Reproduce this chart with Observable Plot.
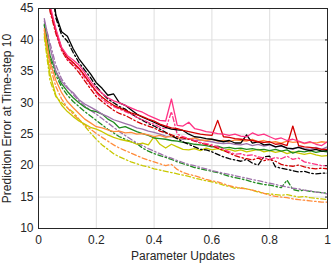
<!DOCTYPE html>
<html><head><meta charset="utf-8">
<script src="https://cdn.jsdelivr.net/npm/d3@7"></script>
<script src="https://cdn.jsdelivr.net/npm/@observablehq/plot@0.6"></script>
<style>body{margin:0;background:#fff}</style>
</head><body><div id="chart"></div>
<script>
const xs = [0.02,0.04,0.06,0.08,0.10,0.12,0.14,0.16,0.18,0.20,0.22,0.24,0.26,0.28,0.30,0.32,0.34,0.36,0.38,0.40,0.42,0.44,0.46,0.48,0.50,0.52,0.54,0.56,0.58,0.60,0.62,0.64,0.66,0.68,0.70,0.72,0.74,0.76,0.78,0.80,0.82,0.84,0.86,0.88,0.90,0.92,0.94,0.96,0.98,1.00];

const blackSolid = [60,52,44,41.3,40.6,38.6,37.0,35.8,34.6,33.2,32.3,31.2,31.4,30.0,29.6,28.9,28.2,27.7,27.3,26.9,26.5,26.1,25.8,25.7,25.6,25.0,24.6,24.5,24.3,24.2,24.0,23.8,24.0,23.6,23.6,24.9,23.6,23.8,23.3,23.4,23.0,23.2,22.8,22.7,22.9,22.6,22.4,22.6,22.3,22.4];
const blackDash = [58,51,43.5,40.8,39.8,38.0,36.4,35.2,34.0,32.6,31.5,30.6,30.0,29.4,29.0,28.3,27.7,27.2,26.7,26.3,25.8,25.3,24.8,24.3,23.8,23.4,23.0,22.6,22.5,22.2,21.8,21.4,21.1,20.9,20.7,21.0,20.4,20.1,21.4,21.5,19.8,19.6,19.4,19.2,19.0,19.1,18.8,18.7,18.8,18.8];
const pinkSolid = [55,45.5,41.8,38.8,37.5,36.8,36.0,34.8,33.4,32.3,31.5,30.8,30.3,30.0,29.6,29.2,28.8,28.5,28.0,27.6,27.2,27.1,30.6,26.4,26.3,26.9,25.9,25.7,25.4,25.3,25.1,25.0,24.8,25.0,24.7,24.6,25.2,24.8,25.0,24.6,24.2,24.4,24.0,24.2,23.9,23.6,23.8,23.4,23.2,23.8];
const pinkDash = [55,45,41.3,38.5,37.0,36.2,35.3,34.0,32.8,31.6,30.6,29.9,29.4,29.0,28.6,28.2,27.7,27.3,26.9,26.6,26.1,25.8,28.6,25.0,24.6,24.3,24.0,23.7,23.5,23.3,23.0,22.6,22.2,21.8,21.9,21.6,21.7,21.4,21.2,21.0,21.3,21.1,21.5,21.0,21.2,20.6,20.4,20.2,20.0,20.0];
const redSolid = [55,45,41.5,38.7,37.2,36.4,35.5,34.3,33.0,31.8,30.9,30.2,29.6,29.2,28.8,28.4,28.1,27.8,27.4,27.1,26.6,26.3,26.0,25.9,25.6,25.4,25.2,25.0,24.9,24.8,27.2,24.6,24.5,24.3,24.2,24.1,24.0,23.8,23.7,23.8,23.4,23.5,23.2,26.3,23.2,23.0,22.9,22.8,22.6,22.6];
const redDash = [54,44.5,41,38.3,36.8,35.9,34.8,33.5,32.2,31.0,30.2,29.5,28.8,28.3,28.0,27.5,27.0,26.6,26.3,26.0,25.5,25.2,24.9,24.6,24.4,24.2,23.9,23.6,23.4,23.1,22.8,22.4,22.0,21.6,21.3,21.1,20.9,21.2,20.8,21.0,20.7,20.2,20.0,19.9,20.1,19.8,19.6,19.5,19.6,19.5];
const orangeSolid = [41.8,36.5,33.6,31.6,30.2,29.2,28.3,27.4,26.8,26.2,26.0,25.7,25.4,25.5,25.2,25.3,25.0,25.1,24.9,24.6,24.8,24.5,24.7,24.3,24.5,24.2,24.4,24.1,24.0,24.2,23.9,24.0,23.8,24.1,24.0,23.9,24.2,23.8,24.0,23.7,23.8,23.6,23.9,23.7,23.8,23.5,23.7,23.6,23.8,23.7];
const orangeDash = [41.5,35.8,32.6,30.6,29.2,28.2,27.3,26.5,25.8,25.1,24.5,23.9,23.3,22.8,22.4,22.0,21.6,21.2,20.9,20.6,20.3,20.0,20.2,19.4,18.9,18.6,18.4,18.1,17.8,17.6,17.4,17.1,16.8,16.6,16.4,16.3,16.1,15.9,15.6,15.3,15.1,15.0,14.9,14.7,14.6,14.5,14.4,14.3,14.2,14.2];
const yellowSolid = [41.0,34.5,31.2,29.6,28.6,27.8,27.1,26.6,26.1,25.8,25.4,24.9,24.5,24.2,24.0,23.8,23.4,23.6,23.3,24.6,23.4,22.8,23.4,23.0,22.6,22.5,22.7,22.4,22.8,22.5,22.7,22.4,22.6,22.3,22.5,22.2,22.4,22.6,22.2,22.4,22.1,22.3,21.9,22.2,22.0,21.8,22.0,21.7,21.5,21.6];
const yellowDash = [40.5,33.5,31.0,30.0,29.2,28.5,27.4,26.3,25.2,24.2,23.3,22.6,21.9,21.4,21.0,20.6,20.3,20.0,19.8,19.5,19.3,19.1,18.9,18.7,18.5,18.3,18.0,17.8,17.6,17.4,17.2,16.9,16.7,16.4,16.5,16.3,16.1,15.8,15.6,15.5,15.4,15.3,15.4,15.2,15.0,15.1,14.9,14.8,14.7,14.6];
const greenSolid = [42.5,37.5,35.0,33.0,31.8,30.8,30.0,29.3,28.8,28.6,28.2,27.4,26.9,26.0,26.2,25.8,25.4,25.1,24.8,24.4,24.3,24.2,24.0,23.9,23.7,23.6,23.4,23.3,23.2,23.0,23.1,22.8,22.9,22.7,22.8,22.6,22.7,22.5,22.6,22.4,22.6,22.3,22.5,22.0,22.3,22.2,22.4,22.1,22.3,22.2];
const greenDash = [42.3,37.0,34.4,32.5,31.2,30.2,29.4,28.6,27.9,27.2,26.5,25.8,25.2,24.6,24.2,23.8,23.5,22.8,22.3,21.9,21.6,21.3,21.0,20.6,20.3,20.0,19.7,19.5,19.3,19.1,18.9,18.6,18.3,18.1,17.9,17.7,17.4,17.2,17.0,16.9,16.7,16.5,17.7,16.2,16.0,16.1,15.9,15.8,15.7,15.6];
const purpleSolid = [43.4,38.8,35.0,33.4,32.3,31.6,30.5,29.8,29.3,28.8,28.2,27.8,27.3,27.0,26.7,26.4,26.0,25.8,25.5,25.3,25.0,24.7,24.6,24.4,24.2,24.3,24.0,24.1,23.9,23.8,23.6,23.5,23.6,23.4,23.3,23.5,23.2,23.4,23.1,23.3,23.0,23.1,22.8,22.6,23.0,22.7,22.6,22.9,22.6,23.0];
const purpleDash = [43.0,39.5,36.0,33.8,32.5,31.3,30.3,29.5,28.8,28.2,27.5,26.8,26.1,25.4,24.8,24.2,23.6,23.2,22.7,22.3,21.9,21.5,21.2,20.8,20.5,20.2,20.0,19.7,19.5,19.2,19.0,18.8,18.6,18.4,18.2,18.0,17.8,17.6,17.4,17.2,17.0,16.8,16.6,16.4,16.3,16.1,16.0,15.8,15.7,15.5];

const xTicks = [0,0.2,0.4,0.6,0.8,1];
const yTicks = [10,15,20,25,30,35,40,45];

const dashDot = "5,2.5,1.5,2.5";
const series = [
  {name:"yellowDash", values:yellowDash, color:"#c8c800", dash:dashDot},
  {name:"orangeDash", values:orangeDash, color:"#ff8c3c", dash:dashDot},
  {name:"greenDash", values:greenDash, color:"#1f8a1f", dash:dashDot},
  {name:"purpleDash", values:purpleDash, color:"#9e72aa", dash:dashDot},
  {name:"yellowSolid", values:yellowSolid, color:"#c8c800", dash:null},
  {name:"greenSolid", values:greenSolid, color:"#1f8a1f", dash:null},
  {name:"purpleSolid", values:purpleSolid, color:"#9e72aa", dash:null},
  {name:"orangeSolid", values:orangeSolid, color:"#ff8c3c", dash:null},
  {name:"blackDash", values:blackDash, color:"#000000", dash:dashDot},
  {name:"redDash", values:redDash, color:"#d40000", dash:dashDot},
  {name:"pinkDash", values:pinkDash, color:"#ff3385", dash:dashDot},
  {name:"blackSolid", values:blackSolid, color:"#000000", dash:null},
  {name:"redSolid", values:redSolid, color:"#d40000", dash:null},
  {name:"pinkSolid", values:pinkSolid, color:"#ff3385", dash:null}
];

const lineMarks = series.map(s => Plot.line(
  xs.map((x, i) => ({x, y: s.values[i]})),
  {x:"x", y:"y", stroke:s.color, strokeWidth:1.3, strokeDasharray:s.dash, clip:true}
));

const chart = Plot.plot({
  width:336, height:263,
  marginLeft:38, marginRight:9, marginTop:8, marginBottom:35,
  style:{fontFamily:"'Liberation Sans', Arial, sans-serif", fontSize:"12px", color:"#262626", background:"#fff"},
  x:{domain:[0,1]},
  y:{domain:[10,45]},
  marks:[
    Plot.gridX(xTicks, {stroke:"#dedede", strokeOpacity:1}),
    Plot.gridY(yTicks, {stroke:"#dedede", strokeOpacity:1}),
    ...lineMarks,
    Plot.frame({stroke:"#262626", strokeWidth:1}),
    Plot.axisX(xTicks, {tickSize:0, tickPadding:7, tickFormat:d3.format("~g"), label:"Parameter Updates", labelAnchor:"center", labelArrow:false, labelOffset:31}),
    Plot.axisY(yTicks, {tickSize:0, tickPadding:5, label:"Prediction Error at Time-step 10", labelAnchor:"center", labelArrow:false, labelOffset:36}),
    Plot.axisY(yTicks, {anchor:"right", tickSize:-3, tickFormat:() => "", label:null})
  ]
});
document.getElementById("chart").appendChild(chart);
</script>
</body></html>
